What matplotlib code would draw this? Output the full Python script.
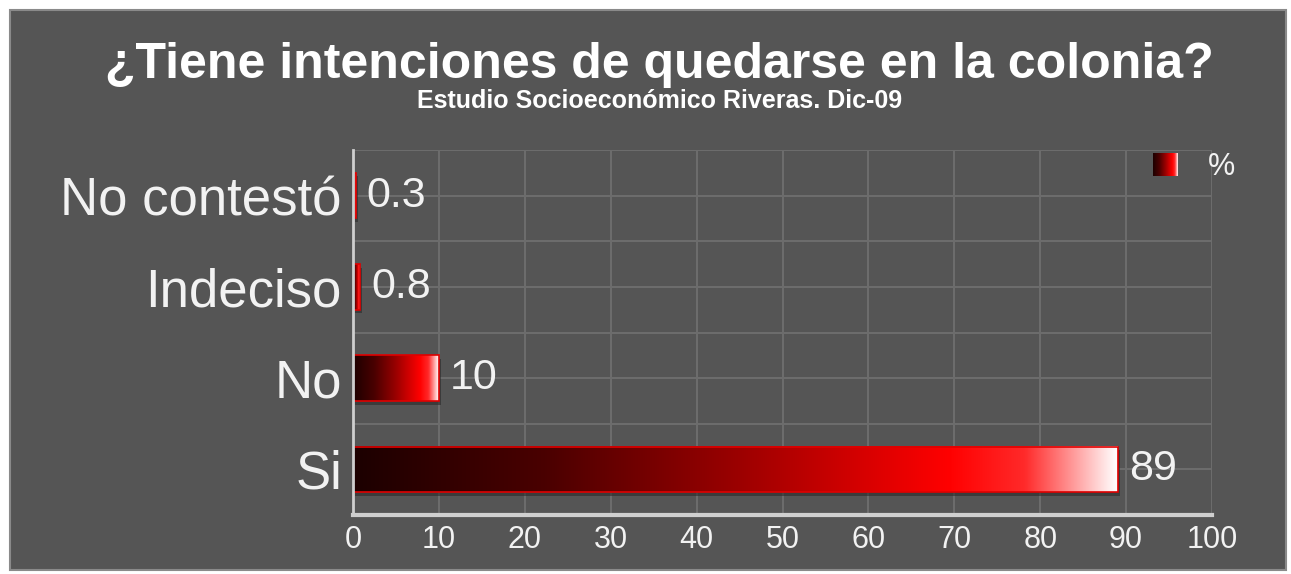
import numpy as np
import matplotlib.pyplot as plt
from matplotlib.colors import LinearSegmentedColormap
from matplotlib.patches import Rectangle

# ---------- Data ----------
categories = ["Si", "No", "Indeciso", "No contestó"]
values = [89, 10, 0.8, 0.3]
value_labels = ["89", "10", "0.8", "0.3"]
xticks = [0, 10, 20, 30, 40, 50, 60, 70, 80, 90, 100]

title = "¿Tiene intenciones de quedarse en la colonia?"
subtitle = "Estudio Socioeconómico Riveras. Dic-09"
legend_label = "%"

# ---------- Style ----------
bg = "#555555"
grid_c = "#6c6c6c"
spine_c = "#cfcfcf"
txt_c = "#f2f2f2"
bar_h = 0.5

cmap = LinearSegmentedColormap.from_list(
    "redbar",
    [(0.0, "#1c0000"), (0.25, "#4a0000"), (0.5, "#9a0000"),
     (0.78, "#ff0000"), (0.88, "#ff2a2a"), (1.0, "#ffffff")])
grad = np.linspace(0, 1, 256).reshape(1, -1)

plt.rcParams["font.family"] = ["Liberation Sans", "DejaVu Sans"]

fig = plt.figure(figsize=(12.91, 5.74), dpi=100, facecolor="white")
# dark panel behind everything
fig.patches.append(Rectangle((10 / 1291, 4 / 574), 1276 / 1291, 560 / 574,
                             transform=fig.transFigure, facecolor=bg,
                             edgecolor="#8a8a8a", lw=1.5, zorder=-1))

ax = fig.add_axes([353 / 1291, 1 - 515 / 574, 859 / 1291, 365 / 574])
ax.set_facecolor(bg)

# grid every half category and every 10 units
for yy in np.arange(-0.5, len(categories), 0.5):
    ax.axhline(yy, color=grid_c, lw=1.5, zorder=1)
for xx in xticks[1:]:
    ax.axvline(xx, color=grid_c, lw=1.5, zorder=1)

for i, (v, lab) in enumerate(zip(values, value_labels)):
    y0 = i - bar_h / 2
    # shadow
    ax.add_patch(Rectangle((0.25, y0 - 0.04), v, bar_h, facecolor="#2a2a2a",
                           edgecolor="none", alpha=0.6, zorder=2))
    ax.imshow(grad, cmap=cmap, aspect="auto", interpolation="bicubic",
              extent=(0, v, y0, y0 + bar_h), zorder=3)
    ax.add_patch(Rectangle((0, y0), v, bar_h, facecolor="none",
                           edgecolor="#e00000", lw=1.2, zorder=4))
    ax.text(v + 1.3, i, lab, color=txt_c, fontsize=31, va="center",
            ha="left", zorder=5)

ax.set_xlim(0, 100)
ax.set_ylim(-0.5, len(categories) - 0.5)
ax.set_xticks(xticks)
ax.set_yticks(range(len(categories)))
ax.set_yticklabels(categories, fontsize=38, color=txt_c)
ax.tick_params(axis="x", labelsize=22, colors=txt_c, length=0, pad=7)
ax.tick_params(axis="y", length=0, pad=8)

for s in ["top", "right"]:
    ax.spines[s].set_visible(False)
ax.spines["left"].set_color(spine_c)
ax.spines["left"].set_linewidth(2)
ax.spines["bottom"].set_color(spine_c)
ax.spines["bottom"].set_linewidth(3)
ax.spines["left"].set_zorder(6)
ax.spines["bottom"].set_zorder(6)

# legend marker
leg_ax = fig.add_axes([1153 / 1291, 1 - 176 / 574, 25 / 1291, 23 / 574])
leg_ax.imshow(grad, cmap=cmap, aspect="auto", interpolation="bicubic",
              extent=(0, 1, 0, 1))
leg_ax.set_axis_off()
fig.text(1208 / 1291, 1 - 167 / 574, legend_label, color=txt_c, fontsize=22,
         va="center", ha="left")

fig.text(0.511, 1 - 65 / 574, title, color="white", fontsize=36,
         fontweight="bold", ha="center", va="center")
fig.text(0.511, 1 - 101 / 574, subtitle, color="white", fontsize=18,
         fontweight="bold", ha="center", va="center")

fig.savefig("out.png", dpi=100, facecolor="white")
